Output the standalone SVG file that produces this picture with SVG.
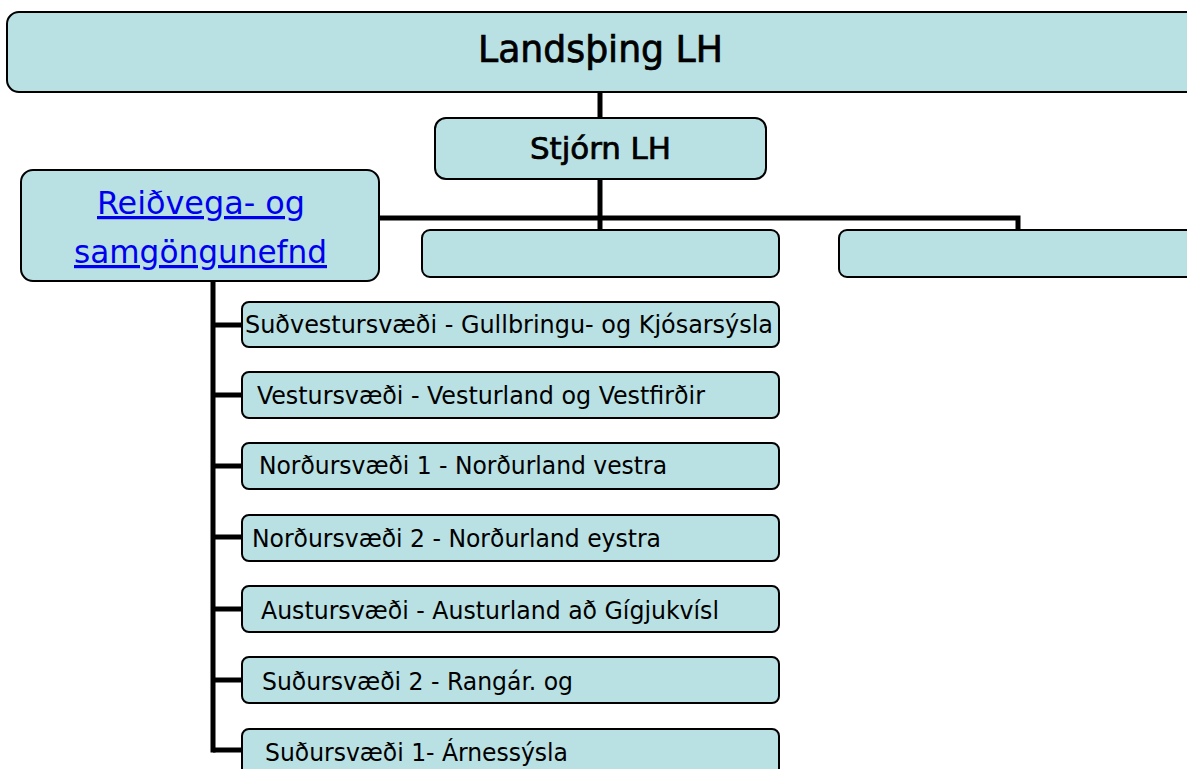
<svg xmlns="http://www.w3.org/2000/svg" width="1187" height="769" viewBox="0 0 1187 769">
<style>
.box{fill:#b9e0e3;stroke:#000;stroke-width:2}
.t{font-family:"DejaVu Sans Condensed","DejaVu Sans",sans-serif;fill:#000}
.h{stroke:#000;stroke-width:0.7}
.s{font-size:24px}
.link{fill:#0000ee;text-decoration:underline;font-size:32px}
.conn{stroke:#000;stroke-width:5;fill:none}
</style>
<rect width="1187" height="769" fill="#fff"/>
<g id="connectors">
<path class="conn" d="M600,92 V118"/>
<path class="conn" d="M600,179 V230"/>
<path class="conn" d="M379,218 H1018 V230"/>
<path class="conn" d="M213,281 V752.5"/>
<path class="conn" d="M213,325 H243 M213,395 H243 M213,466 H243 M213,537 H243 M213,609 H243 M213,680 H243 M213,750 H243"/>
</g>
<g id="landsthing"><rect class="box" x="7" y="12" width="1192" height="80" rx="12"/><text class="t h" x="478" y="62" font-size="38" textLength="245" lengthAdjust="spacingAndGlyphs">Landsþing LH</text></g>
<g id="stjorn"><rect class="box" x="435" y="118" width="331" height="61" rx="11"/><text class="t h" x="530" y="159" font-size="31" textLength="141" lengthAdjust="spacingAndGlyphs">Stjórn LH</text></g>
<g id="reidvega"><rect class="box" x="21" y="170" width="358" height="111" rx="12"/>
<text class="t link" x="97" y="214" textLength="208" lengthAdjust="spacingAndGlyphs">Reiðvega- og</text>
<text class="t link" x="74" y="263" textLength="253" lengthAdjust="spacingAndGlyphs">samgöngunefnd</text></g>
<g id="empty1"><rect class="box" x="422" y="230" width="357" height="47" rx="8"/></g>
<g id="empty2"><rect class="box" x="839" y="230" width="360" height="47" rx="8"/></g>
<g id="n1"><rect class="box" x="242" y="302" width="537" height="45" rx="7"/><text class="t s" x="245" y="333" textLength="528" lengthAdjust="spacingAndGlyphs">Suðvestursvæði - Gullbringu- og Kjósarsýsla</text></g>
<g id="n2"><rect class="box" x="242" y="372" width="537" height="46" rx="7"/><text class="t s" x="257" y="404" textLength="448" lengthAdjust="spacingAndGlyphs">Vestursvæði - Vesturland og Vestfirðir</text></g>
<g id="n3"><rect class="box" x="242" y="443" width="537" height="46" rx="7"/><text class="t s" x="259" y="474" textLength="408" lengthAdjust="spacingAndGlyphs">Norðursvæði 1 - Norðurland vestra</text></g>
<g id="n4"><rect class="box" x="242" y="515" width="537" height="46" rx="7"/><text class="t s" x="252" y="547" textLength="409" lengthAdjust="spacingAndGlyphs">Norðursvæði 2 - Norðurland eystra</text></g>
<g id="n5"><rect class="box" x="242" y="586" width="537" height="46" rx="7"/><text class="t s" x="261" y="619" textLength="458" lengthAdjust="spacingAndGlyphs">Austursvæði - Austurland að Gígjukvísl</text></g>
<g id="n6"><rect class="box" x="242" y="657" width="537" height="46" rx="7"/><text class="t s" x="262" y="690" textLength="311" lengthAdjust="spacingAndGlyphs">Suðursvæði 2 - Rangár. og</text></g>
<g id="n7"><rect class="box" x="242" y="729" width="537" height="50" rx="7"/><text class="t s" x="265" y="761" textLength="303" lengthAdjust="spacingAndGlyphs">Suðursvæði 1- Árnessýsla</text></g>
</svg>
